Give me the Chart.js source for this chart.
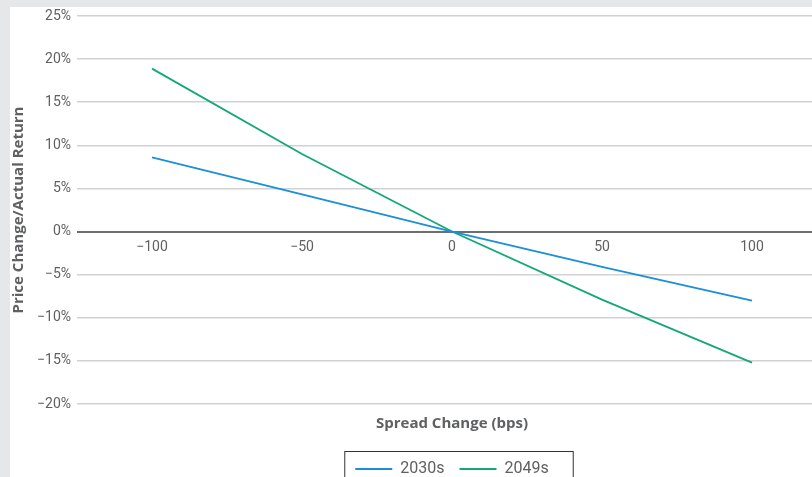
<!DOCTYPE html>
<html>
<head>
<meta charset="utf-8">
<script src="https://cdn.jsdelivr.net/npm/chart.js@4.4.0/dist/chart.umd.min.js"></script>
<style>
  html, body { margin: 0; padding: 0; width: 812px; height: 477px; overflow: hidden; background: #e6e7e8; }
  #wrap { position: absolute; left: 10px; top: 7px; width: 884px; height: 480px; background: #fff; }
</style>
</head>
<body>
<div id="wrap"><canvas id="chart" width="884" height="480"></canvas></div>
<script>
// spread change in bps (x axis)
const spreadChange = [-100, -50, 0, 50, 100];
// price change / actual return in %
const series2030s = [8.6, 4.3, 0, -4.1, -8.0];
const series2049s = [18.9, 9.0, 0, -7.9, -15.2];
// tick labels
const xTicks = [-100, -50, 0, 50, 100];
const yTicks = [-20, -15, -10, -5, 0, 5, 10, 15, 20, 25];

const textColor = '#5f6062';
const fontFamily = 'Roboto, "Open Sans", sans-serif';
const titleFamily = '"Open Sans", Roboto, sans-serif';

// tanda minus yang benar
const minus = (v) => String(v).replace('-', '\u2212');

const toPoints = (ys) => spreadChange.map((x, i) => ({ x: x, y: ys[i] }));

// kotak di sekeliling legend
const legendBorder = {
  id: 'legendBorder',
  afterDraw(chart) {
    const boxes = chart.legend.legendHitBoxes;
    if (!boxes || boxes.length === 0) return;
    const first = boxes[0];
    const last = boxes[boxes.length - 1];
    const ctx = chart.ctx;
    ctx.save();
    ctx.strokeStyle = '#333';
    ctx.lineWidth = 1;
    ctx.strokeRect(first.left - 10.5, first.top - 9.5, last.left + last.width - first.left + 35, 46);
    ctx.restore();
  }
};

new Chart(document.getElementById('chart'), {
  type: 'line',
  data: {
    datasets: [
      {
        label: '2030s',
        data: toPoints(series2030s),
        borderColor: '#1b8fd8',
        backgroundColor: '#1b8fd8',
        borderWidth: 1.8,
        pointRadius: 0,
        tension: 0,
      },
      {
        label: '2049s',
        data: toPoints(series2049s),
        borderColor: '#13a77a',
        backgroundColor: '#13a77a',
        borderWidth: 1.8,
        pointRadius: 0,
        tension: 0,
      },
    ],
  },
  options: {
    responsive: false,
    animation: false,
    layout: { padding: { top: 0, left: 0, right: 0, bottom: 0 } },
    scales: {
      x: {
        type: 'linear',
        position: { y: 0 },
        min: -125,
        max: 125,
        afterBuildTicks: (axis) => { axis.ticks = xTicks.map((v) => ({ value: v })); },
        grid: { display: false },
        border: { display: false },
        ticks: {
          padding: 0,
          color: textColor,
          font: { family: fontFamily, size: 14 },
          callback: (v) => minus(v),
        },
      },
      x2: {
        type: 'linear',
        position: 'bottom',
        min: -125,
        max: 125,
        grid: { display: false },
        border: { display: false },
        ticks: { display: false },
        title: {
          display: true,
          text: 'Spread Change (bps)',
          color: textColor,
          font: { family: titleFamily, size: 15, weight: 'bold' },
          padding: { top: 3, bottom: 13 },
        },
      },
      y: {
        min: -20,
        max: 25,
        afterBuildTicks: (axis) => { axis.ticks = yTicks.map((v) => ({ value: v })); },
        afterFit: (axis) => {
          axis.width = 67;
          axis.paddingTop = 9;
          axis.paddingBottom = 0;
        },
        border: { display: false },
        grid: {
          drawTicks: false,
          color: (c) => (c.tick && c.tick.value === 0 ? '#6d6e71' : '#d2d2d2'),
          lineWidth: (c) => (c.tick && c.tick.value === 0 ? 2 : 1.5),
        },
        ticks: {
          padding: 6,
          color: textColor,
          font: { family: fontFamily, size: 14 },
          callback: (v) => minus(v) + '%',
        },
        title: {
          display: true,
          text: 'Price Change/Actual Return',
          color: textColor,
          font: { family: titleFamily, size: 15, weight: 'bold' },
          padding: 0,
        },
      },
      // sumbu kanan kosong, di luar layar, supaya area chart sama dengan aslinya
      y2: {
        position: 'right',
        grid: { display: false },
        border: { display: false },
        ticks: { display: false },
        afterFit: (axis) => { axis.width = 67; },
      },
    },
    plugins: {
      legend: {
        position: 'bottom',
        labels: {
          usePointStyle: true,
          pointStyle: 'line',
          pointStyleWidth: 37,
          padding: 15,
          color: textColor,
          font: { family: fontFamily, size: 16 },
        },
      },
      tooltip: { enabled: false },
    },
  },
  plugins: [legendBorder],
});
</script>
</body>
</html>
